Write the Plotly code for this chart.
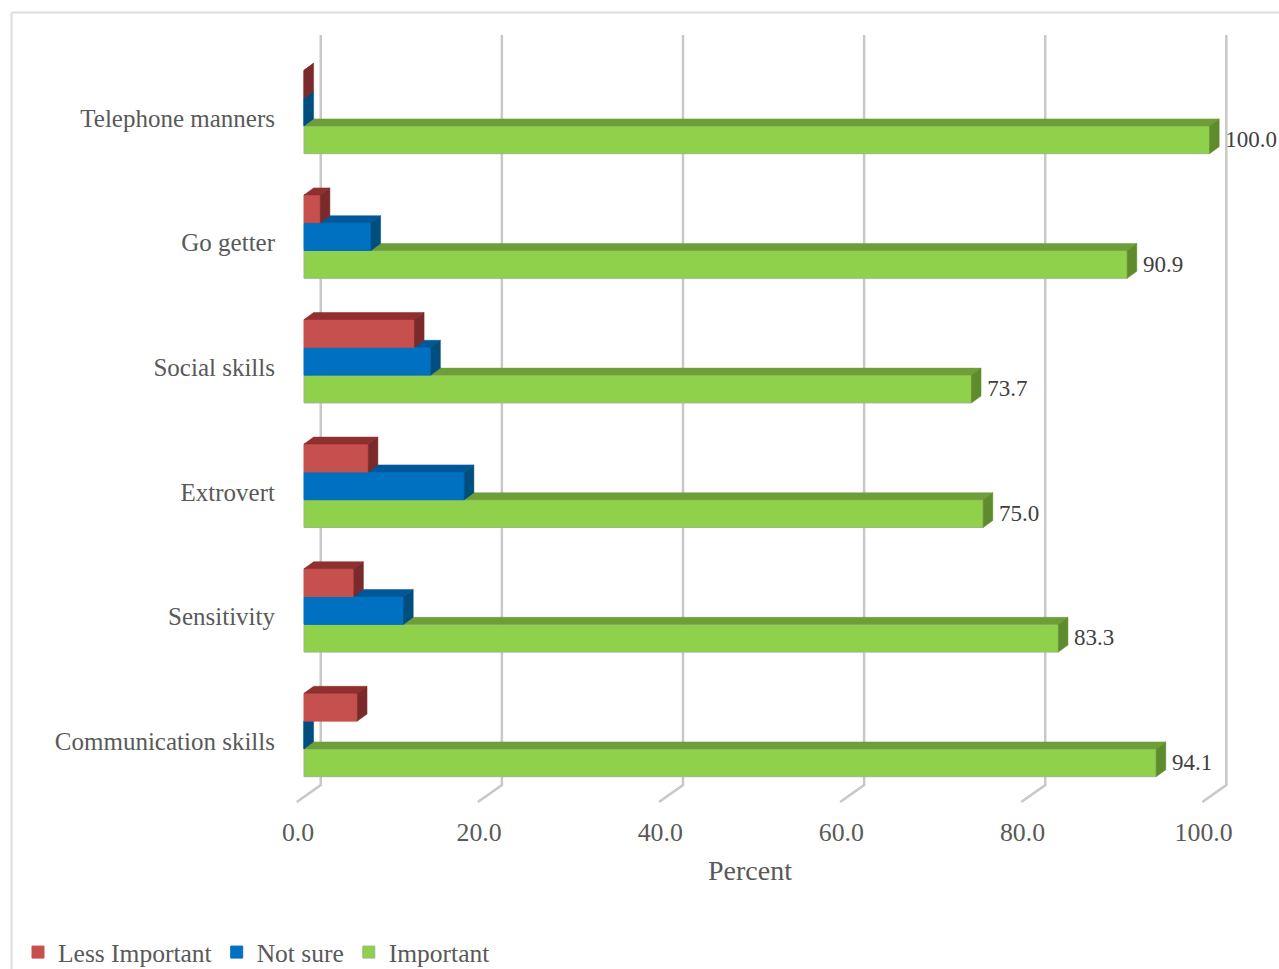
import plotly.graph_objects as go

categories = ["Communication skills", "Sensitivity", "Extrovert", "Social skills", "Go getter", "Telephone manners"]
less_important = [5.9, 5.5, 7.1, 12.2, 1.8, 0.0]
not_sure = [0.0, 11.0, 17.7, 14.0, 7.4, 0.0]
important = [94.1, 83.3, 75.0, 73.7, 90.9, 100.0]
x_ticks = [0, 20, 40, 60, 80, 100]

W, H = 1279, 969
PX_X = 9.056            # pixels per percent
PX_Y = 124.6            # pixels per category
X0_PX, Y0_PX = 304.0, 735.0
L, R, T, B = 264, 1236, 30, 806
FONT = "Liberation Serif"
GREY = "#595959"

x_range = [(L - X0_PX) / PX_X, (R - X0_PX) / PX_X]
y_range = [-(B - Y0_PX) / PX_Y, (Y0_PX - T) / PX_Y]
dx, dy = 9.6 / PX_X, 7 / PX_Y
bar_w = 27.8 / PX_Y

series = [
    ("Important", important, -1.5 * bar_w, "#8FD14B", "#6E9E38", "#5E8C2C", "#9FB58C"),
    ("Not sure", not_sure, -0.5 * bar_w, "#0070C0", "#00589A", "#004E7E", "#0070C0"),
    ("Less Important", less_important, 0.5 * bar_w, "#C5504E", "#8F2F2E", "#7A2A2A", "#C5504E"),
]

fig = go.Figure()

# back-wall gridlines with their slanted floor ticks (bottom layer)
gx, gy = [], []
for t in x_ticks:
    gx += [t + 1.85, t + 1.85, t - 0.8, None]
    gy += [(735 - 35) / PX_Y, (735 - 785) / PX_Y, (735 - 802) / PX_Y, None]
fig.add_trace(go.Scatter(x=gx, y=gy, mode="lines", line=dict(color="#C8C8C8", width=2.5),
                         showlegend=False, hoverinfo="skip"))

for n, (name, vals, off, front, top, side, edge) in enumerate(series, start=2):
    xa, ya = f"x{n}", f"y{n}"
    fig.add_trace(go.Bar(
        name=name, y=list(range(len(vals))), x=vals, orientation="h",
        width=bar_w, offset=off, xaxis=xa, yaxis=ya,
        marker=dict(color=front, line=dict(color=edge, width=1)),
    ))
    tx, ty, sx, sy = [], [], [], []
    for i, v in enumerate(vals):
        yb, yt = i + off, i + off + bar_w
        tx += [0, v, v + dx, dx, 0, None]
        ty += [yt, yt, yt + dy, yt + dy, yt, None]
        sx += [v, v + dx, v + dx, v, v, None]
        sy += [yt, yt + dy, yb + dy, yb, yt, None]
    for fx, fy, col in ((tx, ty, top), (sx, sy, side)):
        fig.add_trace(go.Scatter(x=fx, y=fy, mode="lines", fill="toself", fillcolor=col,
                                 line=dict(color=col, width=0.5), xaxis=xa, yaxis=ya,
                                 showlegend=False, hoverinfo="skip"))

# value labels for Important
fig.add_trace(go.Scatter(
    x=[v + dx + 0.68 for v in important],
    y=[i - bar_w - 1.5 / PX_Y for i in range(len(important))],
    mode="text", text=[f"{v:.1f}" for v in important], textposition="middle right",
    textfont=dict(family=FONT, size=23, color="#404040"), cliponaxis=False,
    xaxis="x4", yaxis="y4", showlegend=False, hoverinfo="skip",
))

fig.update_layout(
    width=W, height=H, autosize=False, margin=dict(l=0, r=0, t=0, b=0, autoexpand=False),
    paper_bgcolor="white", plot_bgcolor="white", showlegend=True,
    font=dict(family=FONT, color=GREY),
    xaxis=dict(
        domain=[L / W, R / W], range=x_range, tickvals=x_ticks,
        ticktext=[f"{t:.1f}" for t in x_ticks], showgrid=False, zeroline=False, showline=False,
        ticks="", ticklabelshift=-6, ticklabelstandoff=8,
        tickfont=dict(family=FONT, size=25.8, color=GREY),
        title=dict(text="Percent", font=dict(family=FONT, size=28, color=GREY), standoff=14),
        fixedrange=True,
    ),
    yaxis=dict(
        domain=[1 - B / H, 1 - T / H], range=y_range, tickvals=[i - 6 / PX_Y for i in range(len(categories))],
        ticktext=categories, showgrid=False, zeroline=False, showline=False, ticks="",
        anchor="free", position=275 / W,
        tickfont=dict(family=FONT, size=25, color=GREY), fixedrange=True,
    ),
    legend=dict(orientation="h", x=18 / W, xanchor="left", y=1 - 929 / H, yanchor="top",
                bgcolor="rgba(0,0,0,0)", traceorder="reversed",
                font=dict(family=FONT, size=25.5, color=GREY),
                itemclick=False, itemdoubleclick=False),
    shapes=[
        dict(type="line", xref="paper", yref="paper", x0=11.5 / W, x1=1,
             y0=1 - 12.5 / H, y1=1 - 12.5 / H, line=dict(color="#DDDDDD", width=2)),
        dict(type="line", xref="paper", yref="paper", x0=11.5 / W, x1=11.5 / W,
             y0=0, y1=1 - 12.5 / H, line=dict(color="#DDDDDD", width=2)),
    ],
)
for n in (2, 3, 4):
    fig.update_layout({
        f"xaxis{n}": dict(overlaying="x", range=x_range, visible=False, fixedrange=True),
        f"yaxis{n}": dict(overlaying="y", range=y_range, visible=False, fixedrange=True),
    })

# drop the page's default body margin so the figure fills the window exactly
fig.write_html("out.html", config={"displayModeBar": False},
               default_width=f"{W}px", default_height=f"{H}px",
               post_script="document.body.style.margin='0';document.documentElement.style.overflow='hidden';")
